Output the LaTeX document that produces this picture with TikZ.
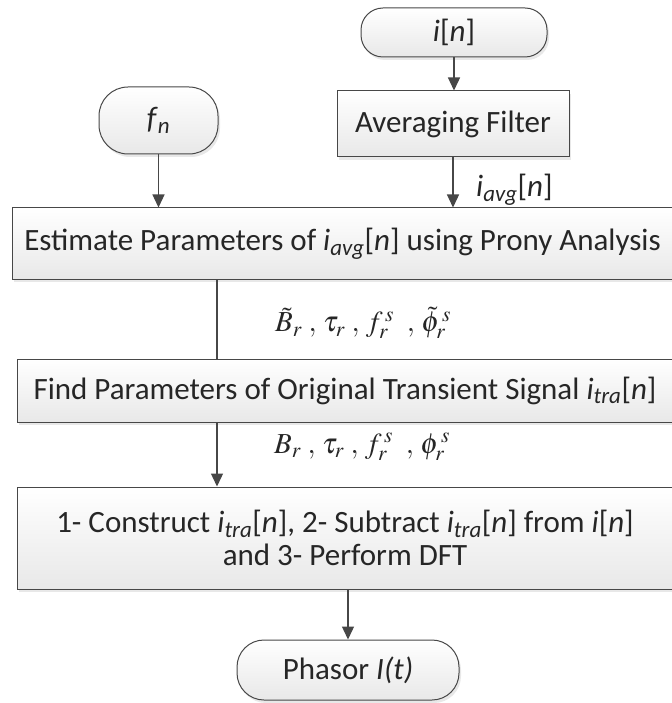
\documentclass[tikz,border=0pt]{standalone}
\usepackage{mathptmx}
\usepackage{fontspec}
\setmainfont{Carlito}
\usetikzlibrary{arrows.meta,shadows}
\newcommand{\sigi}[1]{\textit{i}\textsubscript{\textit{#1}}[\textit{n}]}
\begin{document}
\begin{tikzpicture}[x=1pt,y=-1pt,
  box/.style={draw=black!72, line width=1pt, top color=white, bottom color=black!9,
    drop shadow={opacity=0.18,shadow xshift=2pt,shadow yshift=-3pt},
    inner sep=0pt, text=black!85, font=\fontsize{31}{33}\selectfont, align=center},
  term/.style={box},
  conn/.style={draw=black!72, line width=1.3pt},
  arr/.style={conn, -{Triangle[length=13pt,width=12pt]}},
  lbl/.style={inner sep=0pt, text=black!85},
]
\useasboundingbox (0,0) rectangle (671,703);
% terminators
\node[term, rounded corners=22pt, minimum width=186pt, minimum height=49pt] (in) at (454,32.5) {\textit{i}[\textit{n}]};
\node[term, rounded corners=29pt, minimum width=119pt, minimum height=67pt] (fn) at (158.5,120.5) {\textit{f}\textsubscript{\textit{n}}};
\node[term, rounded corners=27pt, minimum width=222pt, minimum height=60pt] (ph) at (348,670) {Phasor \textit{I(t)}};
% process boxes
\node[box, minimum width=232pt, minimum height=66pt] (avg) at (453,124) {Averaging Filter};
\node[box, minimum width=661pt, minimum height=71pt] (est) at (342.5,243.5) {Estimate Parameters of \sigi{avg} using Prony Analysis};
\node[box, minimum width=656pt, minimum height=63pt] (find) at (345,390.5) {Find Parameters of Original Transient Signal \sigi{tra}};
\node[box, minimum width=656pt, minimum height=102pt] (last) at (345,538) {1- Construct \sigi{tra}, 2- Subtract \sigi{tra} from \textit{i}[\textit{n}]\\ and 3- Perform DFT};
% labels
\node[lbl, anchor=west, font=\fontsize{31}{33}\selectfont] (lavg) at (476,190) {\sigi{avg}};
\node[lbl, font=\fontsize{29}{32}\selectfont] (l1) at (363,323) {$\tilde{B}_r\;,\,\tau_r\;,\,f_r^{\,s}\;\;,\,\tilde{\phi}_r^{\,s}$};
\node[lbl, font=\fontsize{29}{32}\selectfont] (l2) at (362,447) {$B_r\;,\,\tau_r\;,\,f_r^{\,s}\;\;,\,\phi_r^{\,s}$};
% connectors
\coordinate (c1) at (217,0);
\draw[arr] (in.south) -- (in.south |- avg.north);
\draw[arr] (avg.south) -- (avg.south |- est.north);
\draw[arr] (fn.south) -- (fn.south |- est.north);
\draw[conn] (est.south -| c1) -- (find.north -| c1);
\draw[arr] (find.south -| c1) -- (last.north -| c1);
\draw[arr] (last.south -| ph.north) -- (ph.north);
\end{tikzpicture}
\end{document}
